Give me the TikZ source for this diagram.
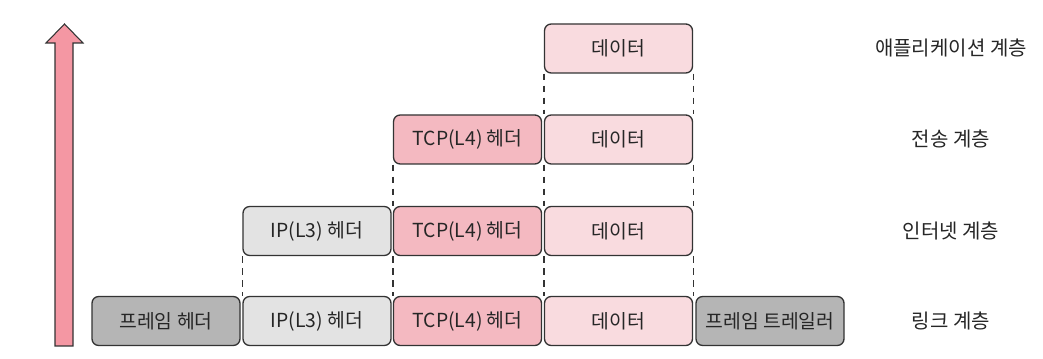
\documentclass[tikz,border=0pt]{standalone}
\usepackage{fontspec}
\newfontfamily\kr{Noto Sans CJK KR}
\definecolor{framegray}{HTML}{B5B5B5}
\definecolor{ipgray}{HTML}{E3E3E3}
\definecolor{tcppink}{HTML}{F4B9C1}
\definecolor{datapink}{HTML}{F9DBDF}
\definecolor{arrowpink}{HTML}{F497A3}
\definecolor{edge}{HTML}{333333}
\begin{document}
\begin{tikzpicture}[x=0.75pt,y=-0.75pt,
  seg/.style={draw=edge,line width=1pt,rounded corners=5pt,minimum width=111pt,minimum height=36.75pt,inner sep=0pt,font=\kr\fontsize{14.5}{16}\selectfont,text=black!85},
  fr/.style={seg,fill=framegray},
  ip/.style={seg,fill=ipgray},
  tcp/.style={seg,fill=tcppink},
  dat/.style={seg,fill=datapink},
  lay/.style={font=\kr\fontsize{15}{17}\selectfont,text=black!85},
  guide/.style={draw=edge,line width=1pt,dash pattern=on 5pt off 4pt}]
\useasboundingbox (0,0) rectangle (1043,359);
% arrow
\filldraw[fill=arrowpink,draw=edge,line width=0.8pt,line join=miter]
  (55,346) -- (55,43) -- (46,43) -- (64.5,24) -- (83,43) -- (73,43) -- (73,346) -- cycle;
% boxes
\node[dat] (a1) at (618.5,48.5) {데이터};
\node[tcp] (t1) at (467.5,139.5) {TCP(L4) 헤더};
\node[dat] (t2) at (618.5,139.5) {데이터};
\node[ip]  (i1) at (317,231) {IP(L3) 헤더};
\node[tcp] (i2) at (467.5,231) {TCP(L4) 헤더};
\node[dat] (i3) at (618.5,231) {데이터};
\node[fr]  (l1) at (166,321) {프레임 헤더};
\node[ip]  (l2) at (317,321) {IP(L3) 헤더};
\node[tcp] (l3) at (467.5,321) {TCP(L4) 헤더};
\node[dat] (l4) at (618.5,321) {데이터};
\node[fr]  (l5) at (770,321) {프레임 트레일러};
% guides
\draw[guide] (a1.south west) -- (t2.north west);
\draw[guide] (a1.south east) -- (t2.north east);
\draw[guide] (t1.south west) -- (i2.north west);
\draw[guide] (t2.south west) -- (i3.north west);
\draw[guide] (t2.south east) -- (i3.north east);
\draw[guide] (i1.south west) -- (l2.north west);
\draw[guide] (i2.south west) -- (l3.north west);
\draw[guide] (i3.south west) -- (l4.north west);
\draw[guide] (i3.south east) -- (l4.north east);
% layer labels
\node[lay] (n1) at (951,48) {애플리케이션 계층};
\node[lay] (n2) at (951,139) {전송 계층};
\node[lay] (n3) at (951,231) {인터넷 계층};
\node[lay] (n4) at (951,321) {링크 계층};
\end{tikzpicture}
\end{document}
